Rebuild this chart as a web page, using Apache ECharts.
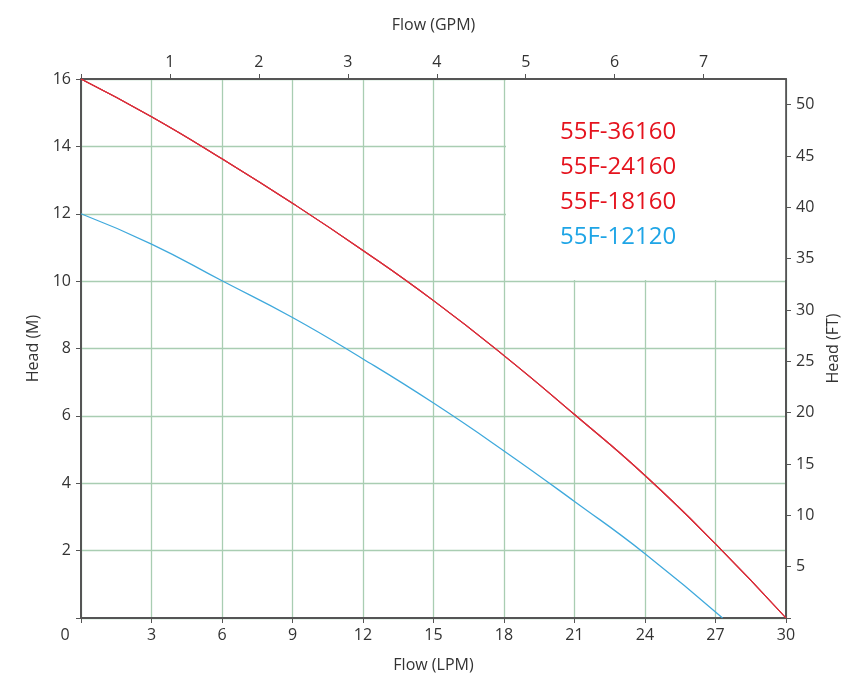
<!DOCTYPE html>
<html>
<head>
    <meta charset="UTF-8">
    <title>Pump curve</title>
    <script src="https://cdn.jsdelivr.net/npm/echarts@6/dist/echarts.min.js"></script>
    <style>
        html, body { margin: 0; padding: 0; background: #fff; }
        #main { width: 847px; height: 688px; }
    </style>
</head>
<body>
<div id="main"></div>
<script type="text/javascript">
    // flow in LPM, head in M
    var flowRed = [0, 3, 6, 9, 12, 15, 18, 21, 24, 27, 30];
    var headRed = [16, 14.88, 13.63, 12.31, 10.91, 9.42, 7.79, 6.04, 4.23, 2.20, 0];
    var flowBlue = [0, 3, 6, 9, 12, 15, 18, 21, 24, 27.3];
    var headBlue = [12, 11.10, 10.01, 8.92, 7.69, 6.38, 4.96, 3.46, 1.91, 0];
    var redModels = ['55F-36160', '55F-24160', '55F-18160'];
    var blueModel = '55F-12120';
    var gpmTicks = [0, 1, 2, 3, 4, 5, 6, 7];
    var ftTicks = [0, 5, 10, 15, 20, 25, 30, 35, 40, 45, 50];

    var LPM_PER_GPM = 3.785;
    var FT_PER_M = 3.28084;

    var font = 'Open Sans';
    var gridGreen = '#a9cdb2';
    var axisGray = '#555';

    function pairs(xs, ys) {
        return xs.map(function (x, i) { return [x, ys[i]]; });
    }

    var myChart = echarts.init(document.getElementById('main'));

    var series = redModels.map(function (name) {
        return {
            name: name,
            type: 'line',
            smooth: true,
            showSymbol: false,
            lineStyle: { color: '#d9303c', width: 1.1 },
            itemStyle: { color: '#d9303c' },
            data: pairs(flowRed, headRed)
        };
    });
    series.push({
        name: blueModel,
        type: 'line',
        smooth: true,
        showSymbol: false,
        lineStyle: { color: '#3fa9dc', width: 1.3 },
        itemStyle: { color: '#3fa9dc' },
        data: pairs(flowBlue, headBlue)
    });

    var labelStyle = { fontFamily: font, fontSize: 16, color: '#333' };
    var axisLine = { onZero: false, lineStyle: { color: axisGray, width: 2 } };
    var axisTick = { show: true, length: 5, lineStyle: { color: axisGray } };

    option = {
        animation: false,
        textStyle: { fontFamily: font },
        grid: { left: 81, right: 61, top: 79, bottom: 70, outerBoundsMode: 'none' },
        legend: {
            orient: 'vertical',
            left: 506,
            top: 80,
            icon: 'none',
            itemWidth: 0,
            itemGap: 11,
            backgroundColor: '#fff',
            padding: [40, 109, 31, 49],
            data: redModels.map(function (n) {
                return { name: n, textStyle: { color: '#e5131e' } };
            }).concat([{ name: blueModel, textStyle: { color: '#1fa5e6' } }]),
            textStyle: { fontFamily: font, fontSize: 24 }
        },
        xAxis: [
            {
                type: 'value',
                position: 'bottom',
                min: 0,
                max: 30,
                interval: 3,
                name: 'Flow (LPM)',
                nameLocation: 'middle',
                nameGap: 39,
                nameTextStyle: labelStyle,
                axisLine: axisLine,
                axisTick: axisTick,
                axisLabel: Object.assign({
                    margin: 9,
                    formatter: function (v) { return v === 0 ? '{z|0}' : v; },
                    rich: { z: { fontFamily: font, fontSize: 16, color: '#333', padding: [0, 32, 0, 0] } }
                }, labelStyle),
                splitLine: { show: true, lineStyle: { color: gridGreen, width: 1.3 } }
            },
            {
                type: 'value',
                position: 'top',
                min: 0,
                max: 30 / LPM_PER_GPM,
                name: 'Flow (GPM)',
                nameLocation: 'middle',
                nameGap: 46,
                nameTextStyle: labelStyle,
                axisLine: axisLine,
                axisTick: Object.assign({ customValues: gpmTicks }, axisTick),
                axisLabel: Object.assign({
                    margin: 9,
                    customValues: gpmTicks,
                    formatter: function (v) { return v === 0 ? '' : v; }
                }, labelStyle),
                splitLine: { show: false }
            }
        ],
        yAxis: [
            {
                type: 'value',
                position: 'left',
                min: 0,
                max: 16,
                interval: 2,
                name: 'Head (M)',
                nameLocation: 'middle',
                nameRotate: 90,
                nameGap: 35,
                nameTextStyle: labelStyle,
                axisLine: Object.assign({ show: true }, axisLine),
                axisTick: axisTick,
                axisLabel: Object.assign({
                    margin: 10,
                    formatter: function (v) { return v === 0 ? '' : v; }
                }, labelStyle),
                splitLine: { show: true, lineStyle: { color: gridGreen, width: 1.3 } }
            },
            {
                type: 'value',
                position: 'right',
                min: 0,
                max: 16 * FT_PER_M,
                name: 'Head (FT)',
                nameLocation: 'middle',
                nameRotate: 90,
                nameGap: 36,
                nameTextStyle: labelStyle,
                axisLine: Object.assign({ show: true }, axisLine),
                axisTick: Object.assign({ customValues: ftTicks }, axisTick),
                axisLabel: Object.assign({
                    margin: 10,
                    customValues: ftTicks,
                    formatter: function (v) { return v === 0 ? '' : v; }
                }, labelStyle),
                splitLine: { show: false }
            }
        ],
        series: series
    };

    myChart.setOption(option);
</script>
</body>
</html>
